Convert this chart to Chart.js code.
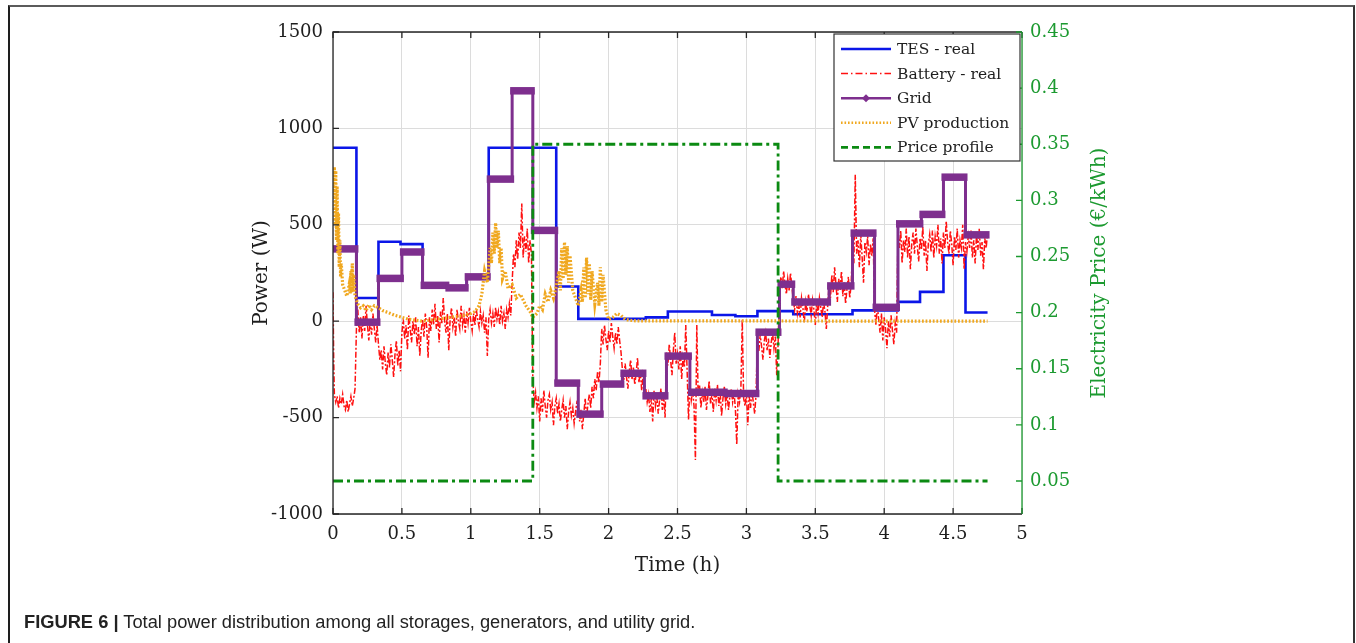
<!DOCTYPE html>
<html>
<head>
<meta charset="utf-8">
<script src="https://cdn.jsdelivr.net/npm/chart.js@4.4.1/dist/chart.umd.min.js"></script>
<style>
html,body{margin:0;padding:0;background:#fff;width:1356px;height:643px;overflow:hidden}
#frame{position:absolute;left:8px;top:5px;width:1343px;height:700px;border-top:2px solid #5b5b5b;border-left:2px solid #1e1e1e;border-right:2px solid #333}
#wrap{position:absolute;left:0;top:0;width:1356px;height:643px}
#cap{position:absolute;left:24px;top:611px;font-family:"Liberation Sans Narrow","Liberation Sans",Arial,sans-serif;font-size:18.3px;color:#222;white-space:nowrap}
</style>
</head>
<body>
<div id="frame"></div>
<div id="wrap"><canvas id="c" width="1356" height="643"></canvas></div>
<div id="cap"><b>FIGURE 6 |</b> Total power distribution among all storages, generators, and utility grid.</div>
<script>
/* Power distribution — TES, battery, grid, PV + price profile (right axis) */

var xTicks = [0, 0.5, 1, 1.5, 2, 2.5, 3, 3.5, 4, 4.5, 5];
var powerTicks = [-1000, -500, 0, 500, 1000, 1500];
var priceTicks = [0.05, 0.1, 0.15, 0.2, 0.25, 0.3, 0.35, 0.4, 0.45];

// TES - real (step, value holds from t[i] to t[i+1])
var tesT = [0, 0.17, 0.33, 0.49, 0.65, 0.83, 0.97, 1.13, 1.62, 1.78, 2.27, 2.43, 2.75, 2.92, 3.08, 3.34, 3.77, 4.1, 4.26, 4.43, 4.59, 4.75];
var tesP = [900, 120, 412, 400, 185, 172, 230, 900, 180, 12, 20, 50, 32, 26, 52, 36, 56, 100, 152, 342, 45, 45];

// Grid (step)
var gridT = [0, 0.17, 0.33, 0.5, 0.65, 0.83, 0.97, 1.13, 1.3, 1.45, 1.62, 1.78, 1.95, 2.1, 2.26, 2.42, 2.59, 2.85, 3.08, 3.24, 3.34, 3.6, 3.77, 3.93, 4.1, 4.27, 4.43, 4.59, 4.75];
var gridP = [375, -5, 222, 359, 186, 173, 230, 737, 1195, 471, -321, -482, -326, -270, -387, -181, -368, -375, -57, 192, 100, 183, 457, 72, 505, 554, 747, 448, 448];

// Price profile (step, right axis)
var priceT = [0, 1.45, 3.23, 4.75];
var priceV = [0.05, 0.35, 0.05, 0.05];

// PV production [t, W]
var pv = [[0,640],[0.01,800],[0.015,500],[0.02,780],[0.025,420],[0.03,700],[0.035,350],[0.04,560],[0.045,280],[0.05,420],[0.055,230],[0.06,300],
  [0.07,190],[0.08,170],[0.09,150],[0.1,130],[0.11,160],[0.12,200],[0.125,140],[0.13,260],[0.135,150],[0.14,300],[0.145,160],[0.15,240],[0.16,130],
  [0.17,110],[0.18,90],[0.2,70],[0.22,80],[0.24,55],[0.26,85],[0.28,60],[0.3,80],[0.33,70],[0.36,55],[0.4,45],[0.45,30],[0.5,20],[0.55,10],
  [0.6,5],[0.65,0],[0.7,5],[0.75,10],[0.8,15],[0.85,20],[0.9,25],[0.95,30],[1,40],[1.03,50],[1.06,80],[1.08,140],[1.1,260],[1.12,200],
  [1.14,380],[1.15,300],[1.16,460],[1.17,350],[1.18,510],[1.19,380],[1.2,470],[1.21,300],[1.22,380],[1.23,220],[1.25,260],[1.27,170],
  [1.3,190],[1.33,120],[1.36,140],[1.4,80],[1.43,50],[1.45,20],[1.48,40],[1.5,80],[1.52,60],[1.54,140],[1.56,100],[1.58,160],[1.6,120],
  [1.62,180],[1.64,260],[1.65,160],[1.66,380],[1.67,220],[1.68,410],[1.69,240],[1.7,390],[1.71,200],[1.72,340],[1.74,160],[1.76,120],
  [1.78,80],[1.8,160],[1.81,100],[1.82,280],[1.83,120],[1.84,330],[1.85,140],[1.86,300],[1.87,110],[1.88,260],[1.9,90],[1.92,200],
  [1.93,80],[1.94,280],[1.95,100],[1.96,240],[1.98,60],[2,10],[2.03,20],[2.06,40],[2.09,30],[2.12,10],[2.15,5],[2.2,2],[4.75,0]];

// Battery - real [t, W]
var battery = [[0,150],[0.005,-200],[0.01,-380],[0.02,-420],[0.03,-390],[0.04,-450],[0.05,-400],[0.06,-430],[0.07,-380],[0.08,-440],
  [0.09,-460],[0.1,-410],[0.11,-470],[0.12,-430],[0.13,-390],[0.14,-440],[0.15,-400],[0.16,-350],[0.17,-40],
  [0.18,60],[0.19,-60],[0.2,20],[0.21,-90],[0.22,30],[0.23,-50],[0.24,80],[0.25,-20],[0.26,-100],[0.27,10],[0.28,-70],[0.29,40],[0.3,-40],[0.31,-110],[0.32,-20],
  [0.33,-120],[0.34,-200],[0.35,-150],[0.36,-250],[0.37,-130],[0.38,-220],[0.39,-280],[0.4,-160],[0.41,-240],[0.42,-120],[0.43,-200],[0.44,-290],
  [0.45,-170],[0.46,-100],[0.47,-230],[0.48,-150],[0.49,-260],
  [0.5,-60],[0.51,10],[0.52,-90],[0.53,-20],[0.54,-150],[0.55,30],[0.56,-40],[0.57,-110],[0.58,0],[0.59,-70],[0.6,20],[0.61,-130],[0.62,-30],[0.63,-180],[0.64,-50],
  [0.65,10],[0.66,-80],[0.67,40],[0.68,-30],[0.69,-190],[0.7,20],[0.71,-50],[0.72,60],[0.73,-20],[0.74,90],[0.75,-40],[0.76,30],[0.77,-110],
  [0.78,50],[0.79,-10],[0.8,120],[0.81,0],[0.82,-60],[0.83,40],[0.84,-150],[0.85,10],[0.86,70],[0.87,-30],[0.88,20],[0.89,-80],[0.9,60],
  [0.91,0],[0.92,-40],[0.93,80],[0.94,-20],[0.95,30],[0.96,-60],[0.97,50],[0.98,-10],[0.99,70],[1,0],[1.01,-50],[1.02,40],[1.03,-20],
  [1.04,60],[1.05,10],[1.06,-30],[1.07,50],[1.08,-10],[1.09,30],[1.1,-60],[1.11,20],[1.12,-180],[1.13,10],
  [1.14,60],[1.15,-10],[1.16,40],[1.17,-30],[1.18,70],[1.19,10],[1.2,50],[1.21,-20],[1.22,80],[1.23,0],[1.24,40],[1.25,-40],[1.26,60],[1.27,20],[1.28,90],[1.29,30],
  [1.3,200],[1.31,350],[1.32,280],[1.33,420],[1.34,320],[1.35,460],[1.36,380],[1.37,610],[1.38,330],[1.39,440],[1.4,360],[1.41,480],[1.42,300],[1.43,420],[1.44,350],
  [1.45,-300],[1.46,-420],[1.47,-370],[1.48,-450],[1.49,-390],[1.5,-520],[1.51,-400],[1.52,-470],[1.53,-360],[1.54,-440],[1.55,-500],[1.56,-410],
  [1.57,-380],[1.58,-460],[1.59,-420],[1.6,-540],[1.61,-440],
  [1.62,-400],[1.63,-480],[1.64,-430],[1.65,-520],[1.66,-460],[1.67,-410],[1.68,-500],[1.69,-440],[1.7,-560],[1.71,-470],[1.72,-420],[1.73,-490],
  [1.74,-450],[1.75,-530],[1.76,-470],[1.77,-420],
  [1.78,-430],[1.79,-520],[1.8,-460],[1.81,-560],[1.82,-480],[1.83,-400],[1.84,-500],[1.85,-430],[1.86,-380],[1.87,-450],[1.88,-340],[1.89,-400],
  [1.9,-300],[1.91,-360],[1.92,-260],[1.93,-320],[1.94,-220],
  [1.95,-40],[1.96,-120],[1.97,-20],[1.98,-90],[1.99,-150],[2,-50],[2.01,-110],[2.02,-10],[2.03,-80],[2.04,-140],[2.05,-60],[2.06,-120],[2.07,-30],[2.08,-100],[2.09,-160],
  [2.1,-250],[2.11,-310],[2.12,-220],[2.13,-290],[2.14,-350],[2.15,-260],[2.16,-200],[2.17,-300],[2.18,-240],[2.19,-330],[2.2,-270],[2.21,-190],
  [2.22,-320],[2.23,-260],[2.24,-360],[2.25,-280],[2.26,-330],
  [2.27,-350],[2.28,-420],[2.29,-380],[2.3,-470],[2.31,-400],[2.32,-520],[2.33,-360],[2.34,-440],[2.35,-390],[2.36,-480],[2.37,-410],[2.38,-350],[2.39,-460],[2.4,-390],[2.41,-500],
  [2.42,-160],[2.43,-230],[2.44,-120],[2.45,-200],[2.46,-280],[2.47,-150],[2.48,-60],[2.49,-220],[2.5,-170],[2.51,-250],[2.52,-130],[2.53,-300],
  [2.54,-190],[2.55,-240],[2.56,-20],[2.57,-260],[2.58,-510],
  [2.59,-330],[2.6,-410],[2.61,-360],[2.62,-440],[2.63,-720],[2.64,-20],[2.65,-390],[2.66,-330],[2.67,-450],[2.68,-370],[2.69,-420],[2.7,-340],
  [2.71,-460],[2.72,-390],[2.73,-310],[2.74,-430],[2.75,-380],[2.76,-470],[2.77,-350],[2.78,-410],[2.79,-330],[2.8,-440],[2.81,-370],[2.82,-490],
  [2.83,-400],[2.84,-340],[2.85,-430],[2.86,-380],[2.87,-460],[2.88,-390],[2.89,-350],[2.9,-420],[2.91,-370],[2.92,-450],[2.93,-640],[2.94,-380],
  [2.95,-420],[2.96,-350],[2.97,10],[2.98,-400],[2.99,-440],[3,-370],[3.01,-540],[3.02,-390],[3.03,-450],[3.04,-360],[3.05,-420],[3.06,-480],[3.07,-380],
  [3.08,-90],[3.09,-160],[3.1,-70],[3.11,-130],[3.12,-200],[3.13,-100],[3.14,-60],[3.15,-150],[3.16,-90],[3.17,-190],[3.18,-110],[3.19,-60],
  [3.2,-140],[3.21,-80],[3.22,-280],[3.23,-120],
  [3.24,150],[3.25,230],[3.26,170],[3.27,260],[3.28,190],[3.29,140],[3.3,220],[3.31,160],[3.32,250],[3.33,180],
  [3.34,110],[3.35,60],[3.36,130],[3.37,40],[3.38,90],[3.39,20],[3.4,120],[3.41,70],[3.42,-10],[3.43,100],[3.44,50],[3.45,140],[3.46,80],
  [3.47,30],[3.48,110],[3.49,60],[3.5,-20],[3.51,90],[3.52,40],[3.53,120],[3.54,70],[3.55,20],[3.56,100],[3.57,50],[3.58,-40],[3.59,80],
  [3.6,180],[3.61,120],[3.62,240],[3.63,150],[3.64,280],[3.65,190],[3.66,100],[3.67,220],[3.68,160],[3.69,260],[3.7,130],[3.71,200],[3.72,90],
  [3.73,170],[3.74,230],[3.75,120],[3.76,190],
  [3.77,380],[3.78,300],[3.79,760],[3.8,350],[3.81,420],[3.82,280],[3.83,450],[3.84,330],[3.85,200],[3.86,410],[3.87,360],[3.88,440],[3.89,290],[3.9,400],[3.91,340],[3.92,430],
  [3.93,60],[3.94,-20],[3.95,80],[3.96,10],[3.97,-60],[3.98,40],[3.99,-100],[4,20],[4.01,-40],[4.02,-140],[4.03,0],[4.04,-80],[4.05,30],
  [4.06,-50],[4.07,-120],[4.08,-10],[4.09,-60],
  [4.1,450],[4.11,380],[4.12,470],[4.13,300],[4.14,420],[4.15,360],[4.16,480],[4.17,330],[4.18,440],[4.19,270],[4.2,400],[4.21,460],[4.22,350],
  [4.23,480],[4.24,390],[4.25,310],[4.26,430],[4.27,370],[4.28,490],[4.29,340],[4.3,420],[4.31,260],[4.32,400],[4.33,450],[4.34,360],[4.35,470],
  [4.36,330],[4.37,440],[4.38,390],[4.39,500],[4.4,350],[4.41,430],[4.42,300],[4.43,460],[4.44,380],[4.45,520],[4.46,410],[4.47,350],[4.48,470],
  [4.49,400],[4.5,290],[4.51,440],[4.52,370],[4.53,480],[4.54,330],[4.55,420],[4.56,380],[4.57,500],[4.58,270],[4.59,410],
  [4.6,360],[4.61,440],[4.62,380],[4.63,470],[4.64,330],[4.65,420],[4.66,300],[4.67,450],[4.68,370],[4.69,480],[4.7,340],[4.71,410],[4.72,270],
  [4.73,430],[4.74,380],[4.75,460]];

var FONT = '"DejaVu Serif", serif';
var C_TES = '#0b16e8', C_BAT = '#ff1010', C_GRID = '#7e2f8e', C_PV = '#f0a820', C_PRICE = '#0b8a12';
var C_GREEN = '#1c9a30', C_TXT = '#1e1e1e';

function xy(ts, vs){ return ts.map(function(t, i){ return {x:t, y:vs[i]}; }); }
function pairs(a){ return a.map(function(p){ return {x:p[0], y:p[1]}; }); }
function fixTicks(list){ return function(s){ s.ticks = list.map(function(v){ return {value:v}; }); }; }

/* thick marker band of the Grid series, drawn right after the Grid line */
var gridBand = {
  id:'gridBand',
  afterDatasetDraw: function(chart, args){
    if(args.index !== 2) return;
    var ctx = chart.ctx, xs = chart.scales.x, ys = chart.scales.y, a = chart.chartArea;
    ctx.save();
    ctx.beginPath(); ctx.rect(a.left, a.top, a.right-a.left, a.bottom-a.top); ctx.clip();
    ctx.strokeStyle = C_GRID; ctx.lineWidth = 7.5; ctx.lineCap = 'butt';
    for(var i=0;i<gridT.length-1;i++){
      var y = ys.getPixelForValue(gridP[i]);
      ctx.beginPath();
      ctx.moveTo(xs.getPixelForValue(gridT[i])-2, y);
      ctx.lineTo(xs.getPixelForValue(gridT[i+1])+2, y);
      ctx.stroke();
    }
    ctx.restore();
  }
};

/* axes box, inward ticks, right title, legend */
var frame = {
  id:'frame',
  afterDraw: function(chart){
    var ctx = chart.ctx, a = chart.chartArea, xs = chart.scales.x, ys = chart.scales.y, yp = chart.scales.y1;
    ctx.save();
    ctx.lineWidth = 1.3;
    ctx.strokeStyle = '#262626';
    ctx.beginPath();
    ctx.moveTo(a.right, a.top); ctx.lineTo(a.left, a.top); ctx.lineTo(a.left, a.bottom); ctx.lineTo(a.right, a.bottom);
    ctx.stroke();
    ctx.beginPath();
    xTicks.forEach(function(v){
      var x = xs.getPixelForValue(v);
      ctx.moveTo(x, a.bottom); ctx.lineTo(x, a.bottom-6);
      ctx.moveTo(x, a.top); ctx.lineTo(x, a.top+6);
    });
    powerTicks.forEach(function(v){
      var y = ys.getPixelForValue(v);
      ctx.moveTo(a.left, y); ctx.lineTo(a.left+6, y);
    });
    ctx.stroke();
    ctx.strokeStyle = C_GREEN;
    ctx.beginPath();
    ctx.moveTo(a.right, a.top); ctx.lineTo(a.right, a.bottom);
    priceTicks.forEach(function(v){
      var y = yp.getPixelForValue(v);
      ctx.moveTo(a.right, y); ctx.lineTo(a.right-6, y);
    });
    ctx.stroke();

    // right axis title reads bottom-to-top
    ctx.fillStyle = C_GREEN;
    ctx.font = '20px ' + FONT;
    ctx.translate(1100, (a.top+a.bottom)/2);
    ctx.rotate(-Math.PI/2);
    ctx.textAlign = 'center'; ctx.textBaseline = 'middle';
    ctx.fillText('Electricity Price (€/kWh)', 0, 0);
    ctx.restore();

    // legend box
    ctx.save();
    var L = 834, T = 34, W = 186, H = 127;
    ctx.fillStyle = '#fff'; ctx.fillRect(L, T, W, H);
    ctx.strokeStyle = '#333'; ctx.lineWidth = 1.2; ctx.strokeRect(L, T, W, H);
    ctx.font = '15.5px ' + FONT; ctx.fillStyle = C_TXT; ctx.textBaseline = 'middle'; ctx.textAlign = 'left';
    chart.data.datasets.forEach(function(ds, i){
      var y = T + 15 + i*24.6;
      ctx.save();
      ctx.strokeStyle = ds.borderColor; ctx.lineWidth = Math.min(ds.borderWidth, 2.6);
      ctx.setLineDash(ds.legendDash || []);
      ctx.beginPath(); ctx.moveTo(841, y); ctx.lineTo(891, y); ctx.stroke();
      if(ds.label === 'Grid'){
        ctx.setLineDash([]); ctx.fillStyle = C_GRID;
        ctx.beginPath(); ctx.moveTo(866, y-4); ctx.lineTo(870, y); ctx.lineTo(866, y+4); ctx.lineTo(862, y); ctx.closePath(); ctx.fill();
      }
      ctx.restore();
      ctx.fillText(ds.label, 897, y+1);
    });
    ctx.restore();
  }
};

new Chart(document.getElementById('c'), {
  type:'line',
  data:{ datasets:[
    { label:'TES - real', data:xy(tesT, tesP), stepped:true, borderColor:C_TES, borderWidth:2.6,
      pointRadius:0, yAxisID:'y', order:4 },
    { label:'Battery - real', data:pairs(battery), borderColor:C_BAT, borderWidth:1.5, borderDash:[6,2,2,2],
      legendDash:[7,3,1.5,3], pointRadius:0, yAxisID:'y', order:3 },
    { label:'Grid', data:xy(gridT, gridP), stepped:true, borderColor:C_GRID, borderWidth:3,
      pointRadius:0, yAxisID:'y', order:2 },
    { label:'PV production', data:pairs(pv), borderColor:C_PV, borderWidth:3.2, borderDash:[1.8,1.8],
      legendDash:[1.6,1.9], pointRadius:0, yAxisID:'y', order:1 },
    { label:'Price profile', data:xy(priceT, priceV), stepped:true, borderColor:C_PRICE, borderWidth:2.8,
      borderDash:[10,4,3,4], legendDash:[7,4], pointRadius:0, yAxisID:'y1', order:0 }
  ]},
  options:{
    responsive:false, animation:false, devicePixelRatio:1,
    layout:{ padding:{ left:250, right:244, top:32, bottom:65 } },
    plugins:{ legend:{display:false}, tooltip:{enabled:false} },
    scales:{
      x:{ type:'linear', min:0, max:5, afterBuildTicks:fixTicks(xTicks), afterFit:function(s){ s.height = 64; },
        grid:{ color:'#dcdcdc', drawTicks:false }, border:{display:false},
        ticks:{ font:{family:FONT, size:18}, color:C_TXT, padding:10, maxRotation:0,
          callback:function(v){ return String(v); } },
        title:{ display:true, text:'Time (h)', font:{family:FONT, size:20}, color:C_TXT, padding:0 } },
      y:{ type:'linear', position:'left', min:-1000, max:1500, afterBuildTicks:fixTicks(powerTicks),
        afterFit:function(s){ s.width = 83; },
        grid:{ color:'#dcdcdc', drawTicks:false }, border:{display:false},
        ticks:{ font:{family:FONT, size:18}, color:C_TXT, padding:10, callback:function(v){ return String(v); } },
        title:{ display:true, text:'Power (W)', font:{family:FONT, size:20}, color:C_TXT, padding:0 } },
      y1:{ type:'linear', position:'right', min:0.0206, max:0.45, afterBuildTicks:fixTicks(priceTicks),
        afterFit:function(s){ s.width = 90; },
        grid:{ display:false, drawTicks:false }, border:{display:false},
        ticks:{ font:{family:FONT, size:18}, color:C_GREEN, padding:8, callback:function(v){ return String(v); } } }
    }
  },
  plugins:[gridBand, frame]
});
</script>
</body>
</html>
